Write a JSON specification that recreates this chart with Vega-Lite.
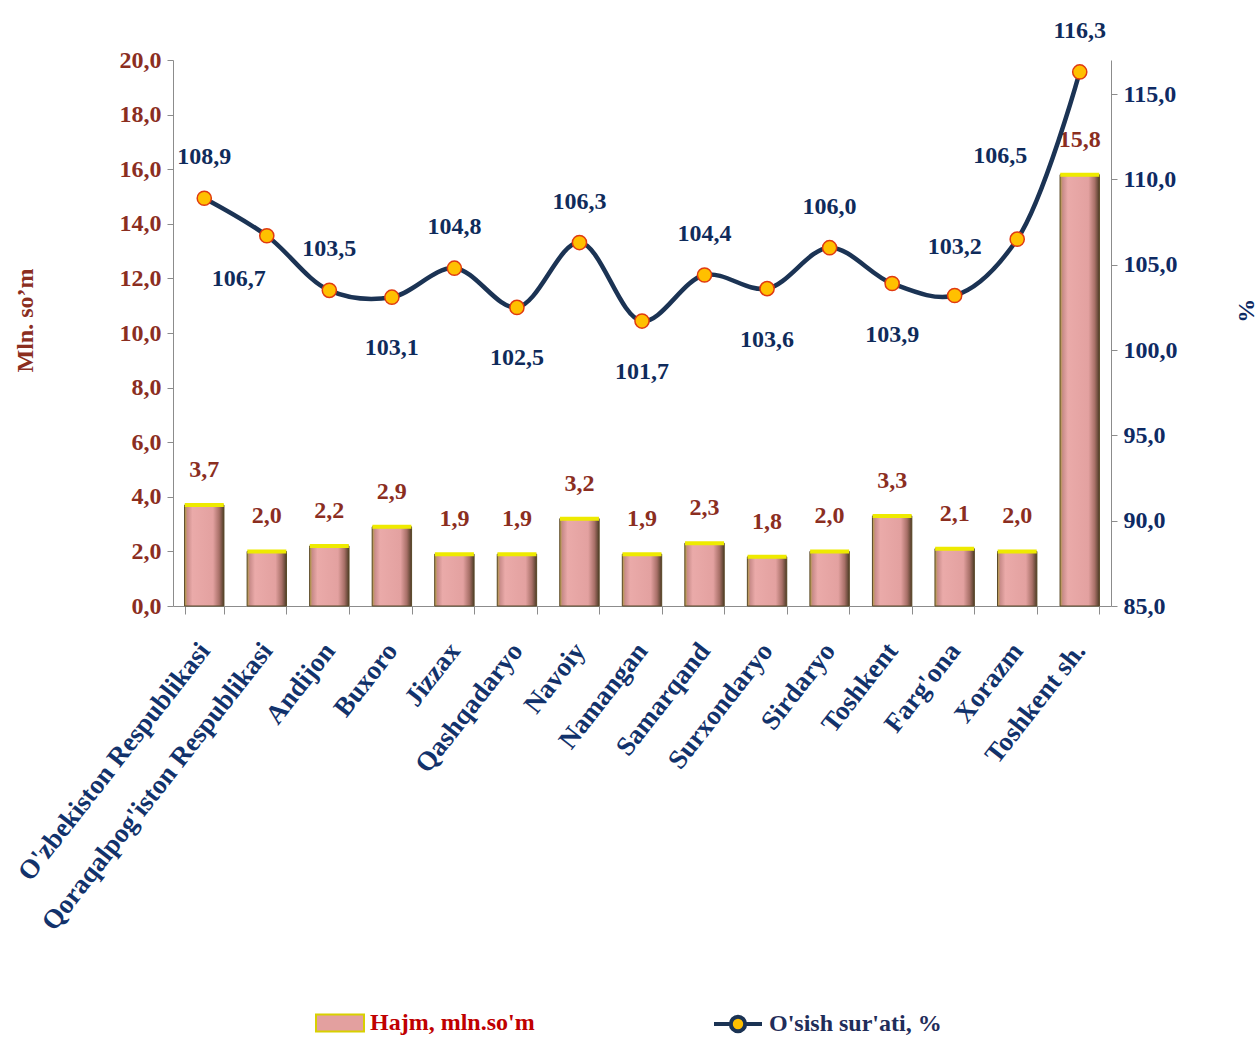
{
  "$schema": "https://vega.github.io/schema/vega-lite/v6.json",
  "width": 938,
  "height": 546,
  "autosize": {"type": "none"},
  "padding": {"left": 173, "top": 60, "right": 148, "bottom": 431},
  "background": "white",
  "config": {
    "locale": {"number": {"decimal": ",", "thousands": " ", "grouping": [3], "currency": ["", ""]}},
    "view": {"stroke": null},
    "font": "Liberation Serif",
    "axis": {"grid": false, "domainColor": "#8c8c8c", "tickColor": "#8c8c8c", "labelFont": "Liberation Serif", "labelFontWeight": "bold", "titleFont": "Liberation Serif", "titleFontWeight": "bold"},
    "legend": {"padding": 0, "labelFont": "Liberation Serif", "labelFontWeight": "bold", "labelFontSize": 24, "labelLimit": 400}
  },
  "data": {
    "values": [
      {"region": "O'zbekiston Respublikasi", "hajm": 3.7, "osish": 108.9},
      {"region": "Qoraqalpog'iston Respublikasi", "hajm": 2.0, "osish": 106.7},
      {"region": "Andijon", "hajm": 2.2, "osish": 103.5},
      {"region": "Buxoro", "hajm": 2.9, "osish": 103.1},
      {"region": "Jizzax", "hajm": 1.9, "osish": 104.8},
      {"region": "Qashqadaryo", "hajm": 1.9, "osish": 102.5},
      {"region": "Navoiy", "hajm": 3.2, "osish": 106.3},
      {"region": "Namangan", "hajm": 1.9, "osish": 101.7},
      {"region": "Samarqand", "hajm": 2.3, "osish": 104.4},
      {"region": "Surxondaryo", "hajm": 1.8, "osish": 103.6},
      {"region": "Sirdaryo", "hajm": 2.0, "osish": 106.0},
      {"region": "Toshkent", "hajm": 3.3, "osish": 103.9},
      {"region": "Farg'ona", "hajm": 2.1, "osish": 103.2},
      {"region": "Xorazm", "hajm": 2.0, "osish": 106.5},
      {"region": "Toshkent sh.", "hajm": 15.8, "osish": 116.3}
    ]
  },
  "encoding": {
    "x": {
      "field": "region", "type": "nominal", "sort": null,
      "scale": {"paddingInner": 0.37, "paddingOuter": 0.185},
      "axis": {
        "title": null, "labelAngle": -52, "labelAlign": "right", "labelBaseline": "middle",
        "labelFontSize": 27, "labelColor": "#12326b", "labelPadding": 32, "tickSize": 8, "tickBand": "extent",
        "labelOverlap": false, "labelLimit": 400
      }
    }
  },
  "layer": [
    {
      "layer": [
        {
          "mark": {"type": "bar"},
          "encoding": {
            "y": {
              "field": "hajm", "type": "quantitative",
              "scale": {"domain": [0, 20], "nice": false},
              "axis": {
                "orient": "left", "values": [0, 2, 4, 6, 8, 10, 12, 14, 16, 18, 20], "format": ".1f",
                "labelFontSize": 24, "labelColor": "#8b2e1f", "tickSize": 6, "labelPadding": 6,
                "title": "Mln. so’m", "titleColor": "#8b2e1f", "titleFontSize": 24,
                "titleX": -148, "titleY": 260, "titleAlign": "center", "titleBaseline": "middle", "titleAngle": -90
              }
            },
            "fill": {
              "datum": "Hajm, mln.so'm", "type": "nominal",
              "scale": {"range": ["#e3a09f"]},
              "legend": {
                "title": null, "orient": "none", "legendX": 142, "legendY": 938,
                "symbolType": "M-1,-0.35H1V0.35H-1Z", "symbolSize": 2304,
                "symbolStrokeColor": "#d8d000", "symbolStrokeWidth": 2,
                "labelColor": "#c00000", "labelOffset": 5
              }
            }
          }
        },
        {
          "mark": {
            "type": "bar",
            "fill": {
              "gradient": "linear", "x1": 0, "x2": 1, "y1": 0, "y2": 0,
              "stops": [
                {"offset": 0, "color": "#b4a040"},
                {"offset": 0.07, "color": "#c98c8a"},
                {"offset": 0.2, "color": "#eaaaa9"},
                {"offset": 0.72, "color": "#e3a1a0"},
                {"offset": 0.88, "color": "#a87068"},
                {"offset": 1, "color": "#4e3c26"}
              ]
            },
            "stroke": "#5a4a2a", "strokeWidth": 1
          },
          "encoding": {"y": {"field": "hajm", "type": "quantitative"}}
        },
        {
          "mark": {"type": "tick", "color": "#eeea00", "thickness": 4, "size": 39, "opacity": 1},
          "encoding": {"y": {"field": "hajm", "type": "quantitative"}}
        },
        {
          "mark": {"type": "text", "dy": -35, "fontSize": 24, "fontWeight": "bold", "color": "#8b2e1f", "baseline": "middle"},
          "encoding": {
            "y": {"field": "hajm", "type": "quantitative"},
            "text": {"field": "hajm", "type": "quantitative", "format": ".1f"}
          }
        }
      ]
    },
    {
      "layer": [
        {
          "mark": {"type": "line", "interpolate": "catmull-rom", "strokeWidth": 4.5},
          "encoding": {
            "y": {
              "field": "osish", "type": "quantitative",
              "scale": {"domain": [85, 117], "nice": false, "zero": false},
              "axis": {
                "orient": "right", "values": [85, 90, 95, 100, 105, 110, 115], "format": ".1f",
                "labelFontSize": 24, "labelColor": "#0e2a63", "tickSize": 6, "labelPadding": 6,
                "title": "%", "titleColor": "#0e2a63", "titleFontSize": 24,
                "titleX": 134, "titleY": 250, "titleAlign": "center", "titleBaseline": "middle", "titleAngle": 90
              }
            },
            "stroke": {
              "datum": "O'sish sur'ati, %", "type": "nominal",
              "scale": {"range": ["#1b3354"]},
              "legend": {
                "title": null, "orient": "none", "legendX": 539, "legendY": 938,
                "symbolType": "M-1,0L-0.3,0M0.3,0L1,0M0.3,0A0.3,0.3,0,1,1,-0.3,0A0.3,0.3,0,1,1,0.3,0Z",
                "symbolSize": 2304, "symbolFillColor": "#ffc000", "symbolStrokeWidth": 4,
                "labelColor": "#1f2d5a", "labelOffset": 5
              }
            }
          }
        },
        {
          "mark": {"type": "point", "shape": "circle", "filled": true, "fill": "#ffc000", "stroke": "#e03a10", "strokeWidth": 1.5, "size": 200, "opacity": 1},
          "encoding": {"y": {"field": "osish", "type": "quantitative"}}
        },
        {
          "transform": [{"filter": {"field": "region", "oneOf": ["O'zbekiston Respublikasi", "Andijon", "Jizzax", "Navoiy", "Samarqand", "Sirdaryo", "Toshkent sh."]}}],
          "mark": {"type": "text", "dy": -41, "fontSize": 24, "fontWeight": "bold", "color": "#0f2b5b", "baseline": "middle"},
          "encoding": {
            "y": {"field": "osish", "type": "quantitative"},
            "text": {"field": "osish", "type": "quantitative", "format": ".1f"}
          }
        },
        {
          "transform": [{"filter": {"field": "region", "oneOf": ["Farg'ona"]}}],
          "mark": {"type": "text", "dy": -48, "fontSize": 24, "fontWeight": "bold", "color": "#0f2b5b", "baseline": "middle"},
          "encoding": {
            "y": {"field": "osish", "type": "quantitative"},
            "text": {"field": "osish", "type": "quantitative", "format": ".1f"}
          }
        },
        {
          "transform": [{"filter": {"field": "region", "oneOf": ["Buxoro", "Qashqadaryo", "Namangan", "Surxondaryo", "Toshkent"]}}],
          "mark": {"type": "text", "dy": 51, "fontSize": 24, "fontWeight": "bold", "color": "#0f2b5b", "baseline": "middle"},
          "encoding": {
            "y": {"field": "osish", "type": "quantitative"},
            "text": {"field": "osish", "type": "quantitative", "format": ".1f"}
          }
        },
        {
          "transform": [{"filter": {"field": "region", "oneOf": ["Qoraqalpog'iston Respublikasi"]}}],
          "mark": {"type": "text", "dx": -28, "dy": 43, "fontSize": 24, "fontWeight": "bold", "color": "#0f2b5b", "baseline": "middle"},
          "encoding": {
            "y": {"field": "osish", "type": "quantitative"},
            "text": {"field": "osish", "type": "quantitative", "format": ".1f"}
          }
        },
        {
          "transform": [{"filter": {"field": "region", "oneOf": ["Xorazm"]}}],
          "mark": {"type": "text", "dx": -17, "dy": -83, "fontSize": 24, "fontWeight": "bold", "color": "#0f2b5b", "baseline": "middle"},
          "encoding": {
            "y": {"field": "osish", "type": "quantitative"},
            "text": {"field": "osish", "type": "quantitative", "format": ".1f"}
          }
        }
      ]
    }
  ],
  "resolve": {"scale": {"y": "independent"}}
}
